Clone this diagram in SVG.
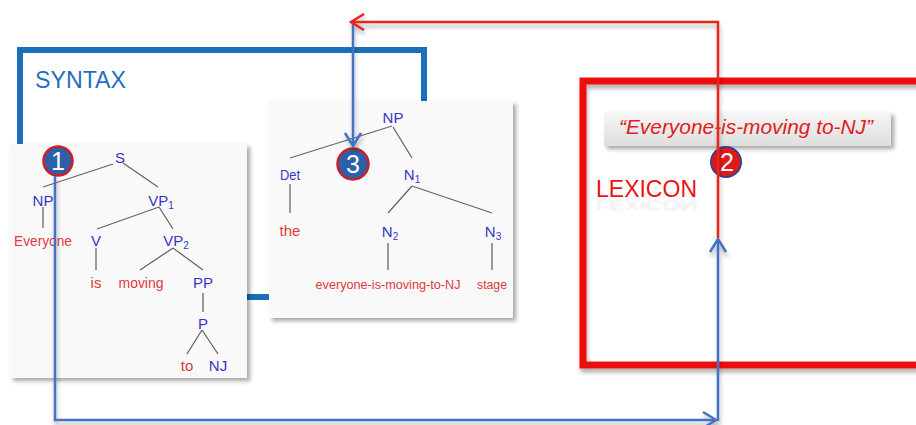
<svg xmlns="http://www.w3.org/2000/svg" width="916" height="425" viewBox="0 0 916 425">
<defs>
<style>
.nt{font-family:"Liberation Sans",Arial,sans-serif;font-size:15px;fill:#3535c8;text-anchor:middle}
.wd{font-family:"Liberation Sans",Arial,sans-serif;font-size:15px;fill:#e0393e;text-anchor:middle}
.sm{font-size:13px}
.sub{font-size:10px}
.tl{stroke:#666;stroke-width:1.3;fill:none}
.card{fill:#f9f9f9;filter:url(#sh)}
.num{font-family:"Liberation Sans",Arial,sans-serif;font-size:25px;fill:#fff;text-anchor:middle}
.cb{fill:#2c60ad;stroke:#c8202a;stroke-width:2.5}
.bl{stroke:#4472c4;stroke-width:2.5;fill:none}
.rd{stroke:#e8251f;stroke-width:2.5;fill:none}
</style>
<filter id="sh" x="-10%" y="-10%" width="130%" height="130%">
<feDropShadow dx="3" dy="3" stdDeviation="2" flood-color="#000" flood-opacity="0.35"/>
</filter>
<filter id="lsh" x="-5%" y="-20%" width="110%" height="140%">
<feDropShadow dx="1" dy="4" stdDeviation="2" flood-color="#000" flood-opacity="0.3"/>
</filter>
<filter id="blur"><feGaussianBlur stdDeviation="1.8"/></filter>
<linearGradient id="qg" x1="0" y1="0" x2="0" y2="1">
<stop offset="0" stop-color="#f6f6f6"/><stop offset="1" stop-color="#dedede"/>
</linearGradient>
<marker id="ab" viewBox="0 0 16 18" markerWidth="16" markerHeight="18" refX="14" refY="9" orient="auto" markerUnits="userSpaceOnUse">
<path d="M1,1 L14,9 L1,17" fill="none" stroke="#4472c4" stroke-width="2.5"/>
</marker>
<marker id="ar" viewBox="0 0 16 18" markerWidth="16" markerHeight="18" refX="14" refY="9" orient="auto" markerUnits="userSpaceOnUse">
<path d="M1,1 L14,9 L1,17" fill="none" stroke="#e8251f" stroke-width="2.5"/>
</marker>
</defs>
<rect width="916" height="425" fill="#fff"/>

<g id="syntax">
<rect x="20" y="50" width="404" height="247" fill="none" stroke="#1b6fba" stroke-width="6"/>
<text x="35" y="88" font-family="'Liberation Sans',Arial,sans-serif" font-size="24" fill="#1f6fbf" textLength="91" lengthAdjust="spacingAndGlyphs">SYNTAX</text>
</g>

<g id="lexicon">
<rect x="583" y="81" width="360" height="284" fill="none" stroke="#ee1111" stroke-width="7" filter="url(#lsh)"/>
<text x="596" y="197" font-family="'Liberation Sans',Arial,sans-serif" font-size="24" fill="#888" opacity="0.2" filter="url(#blur)" transform="matrix(1,0,0,-0.6,0,318)" textLength="101" lengthAdjust="spacingAndGlyphs">LEXICON</text>
<text x="596" y="197" font-family="'Liberation Sans',Arial,sans-serif" font-size="24" fill="#e81414" textLength="101" lengthAdjust="spacingAndGlyphs">LEXICON</text>
</g>

<g id="quote">
<rect x="604" y="112" width="287" height="34" fill="url(#qg)" filter="url(#sh)"/>
<text x="746" y="134" font-family="'Liberation Sans',Arial,sans-serif" font-size="20" font-style="italic" fill="#e02020" text-anchor="middle" textLength="254" lengthAdjust="spacingAndGlyphs">“Everyone-is-moving to-NJ”</text>
</g>

<g id="tree1">
<rect class="card" x="10" y="144" width="237" height="234"/>
<path class="tl" d="M113,164 L43,187 M123,163 L158,187 M43,207 V228 M159,207 L97,229 M159,207 L173,229 M96,248 V270 M173,248 L140,270 M173,248 L203,270 M203,293 V312 M202,330 L187,354 M202,330 L218,354"/>
<text class="nt" x="120" y="163">S</text>
<text class="nt" x="43" y="206">NP</text>
<text class="nt" x="161" y="206">VP<tspan class="sub" dy="3">1</tspan></text>
<text class="wd" x="43" y="246" textLength="58" lengthAdjust="spacingAndGlyphs">Everyone</text>
<text class="nt" x="96" y="246">V</text>
<text class="nt" x="176" y="246">VP<tspan class="sub" dy="3">2</tspan></text>
<text class="wd" x="96" y="288">is</text>
<text class="wd" x="141" y="288" textLength="45" lengthAdjust="spacingAndGlyphs">moving</text>
<text class="nt" x="203" y="288">PP</text>
<text class="nt" x="203" y="329">P</text>
<text class="wd" x="187" y="371">to</text>
<text class="nt" x="218" y="371">NJ</text>
</g>

<g id="tree2">
<rect class="card" x="269" y="101" width="244" height="217"/>
<path class="tl" d="M392,126 L290,158 M393,127 L412,158 M290,184 V213 M412,186 L388,213 M412,186 L492,213 M388,243 V270 M492,243 V270"/>
<text class="nt" x="393" y="123">NP</text>
<text class="nt" x="290" y="180" textLength="20" lengthAdjust="spacingAndGlyphs">Det</text>
<text class="nt" x="412" y="180">N<tspan class="sub" dy="3">1</tspan></text>
<text class="wd" x="290" y="236">the</text>
<text class="nt" x="390" y="237">N<tspan class="sub" dy="3">2</tspan></text>
<text class="nt" x="493" y="237">N<tspan class="sub" dy="3">3</tspan></text>
<text class="wd sm" x="388" y="289" textLength="145" lengthAdjust="spacingAndGlyphs">everyone-is-moving-to-NJ</text>
<text class="wd sm" x="492" y="289" textLength="30" lengthAdjust="spacingAndGlyphs">stage</text>
</g>

<g id="badge1">
<circle class="cb" cx="58" cy="161" r="14.5"/>
<text class="num" x="58" y="170">1</text>
</g>
<g id="badge3">
<circle class="cb" cx="353" cy="164" r="15.5" fill="#1f5fae"/>
<text class="num" x="353" y="173">3</text>
</g>
<g id="badge2">
<circle cx="726" cy="162" r="15" fill="#e01818" stroke="#3a3f8f" stroke-width="2"/>
<text class="num" x="727" y="171">2</text>
</g>

<g id="connectors" filter="url(#lsh)">
<path class="bl" d="M55,176 V420 H716" marker-end="url(#ab)"/>
<path class="bl" d="M718,421 V239" marker-end="url(#ab)"/>
<path class="bl" d="M353,22 V146" marker-end="url(#ab)"/>
<path class="rd" d="M718,238 V22 H351" marker-end="url(#ar)"/>
</g>
</svg>
